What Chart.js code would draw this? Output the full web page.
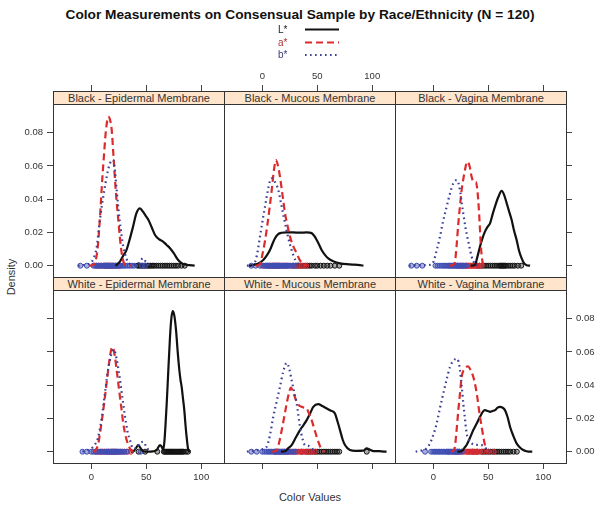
<!DOCTYPE html>
<html>
<head>
<meta charset="utf-8">
<script src="https://cdn.jsdelivr.net/npm/chart.js@4.4.0/dist/chart.umd.min.js"></script>
<style>
  body { margin: 0; background: #fff; }
  #wrap { position: relative; width: 600px; height: 511px; overflow: hidden; font-family: "Liberation Sans", Arial, sans-serif; }
  #wrap canvas { position: absolute; left: 0; top: 0; }
  .strip { position: absolute; box-sizing: border-box; border: 1px solid #333; background: #FFE5CC; color: #333; font-size: 11px; line-height: 12px; text-align: center; white-space: nowrap; }
  #title { position: absolute; left: 0; width: 600px; top: 7px; text-align: center; font-weight: bold; font-size: 13.7px; line-height: 15px; color: #111; }
  .lg { position: absolute; font-size: 10px; line-height: 12px; }
  #ylab { position: absolute; left: 11px; top: 277px; transform: translate(-50%, -50%) rotate(-90deg); font-size: 11px; color: #333; white-space: nowrap; }
  #xlab { position: absolute; left: 310px; top: 497px; transform: translate(-50%, -50%); font-size: 11px; color: #333; white-space: nowrap; }
</style>
</head>
<body>
<div id="wrap">
  <div id="title">Color Measurements on Consensual Sample by Race/Ethnicity (N = 120)</div>
  <div id="ylab">Density</div>
  <div id="xlab">Color Values</div>
</div>
<script>
// ---------------- DATA ----------------
const panelNames = ["Black - Epidermal Membrane", "Black - Mucous Membrane", "Black - Vagina Membrane",
                    "White - Epidermal Membrane", "White - Mucous Membrane", "White - Vagina Membrane"];
const seriesNames = ["L*", "a*", "b*"];
const xTickValues = [0, 50, 100];
const yTickValues = [0.00, 0.02, 0.04, 0.06, 0.08];

// density curves [x, density]
const blackEpidermalL = [[22,0],[26,0.0024],[29,0.006],[32,0.0094],[35,0.016],[38,0.0235],[41,0.0315],[44.3,0.0345],[47,0.0325],[49.5,0.03],[52,0.0275],[55,0.023],[58,0.0185],[61.5,0.016],[65.5,0.0144],[68.5,0.0125],[71.6,0.0105],[75,0.0075],[79,0.0034],[83,0.0012],[87,0.0005],[94,0.0001]];
const blackEpidermalA = [[-2,0],[2,0.0005],[4,0.003],[6,0.012],[8,0.03],[10,0.052],[11.5,0.066],[13.3,0.081],[15.5,0.0896],[17,0.088],[18.6,0.0816],[20,0.068],[21.6,0.0515],[23,0.039],[24.6,0.0275],[26,0.017],[27.7,0.0075],[29.5,0.002],[32,0.0002],[36,0]];
const blackEpidermalB = [[-12,0],[-6,0.0005],[0,0.002],[3,0.006],[5,0.0115],[7,0.023],[9.5,0.0355],[12,0.046],[14,0.0535],[17,0.0616],[20,0.0636],[21.5,0.057],[23.1,0.0455],[24.6,0.035],[26.1,0.0255],[27.6,0.018],[29.1,0.0115],[32.2,0.004],[35.2,0.001],[40,0.0005],[44,0.002],[47,0.0045],[50,0.002],[54,0]];

const blackMucousL = [[-12,0],[-9.6,0.0002],[-4,0.0012],[0.9,0.0034],[4,0.006],[7,0.0094],[9.5,0.0135],[11.6,0.0165],[14.5,0.019],[17.7,0.0198],[22,0.02],[28,0.02],[34,0.0199],[40.4,0.02],[44.9,0.0196],[47.2,0.018],[49.5,0.0155],[52,0.0122],[54,0.0094],[57,0.0065],[60,0.0044],[65,0.0025],[70.7,0.0014],[80,0.0008],[88.8,0.0003],[92,0]];
const blackMucousA = [[-6,0],[-2.1,0.001],[0.5,0.008],[2.5,0.015],[4,0.0215],[6.5,0.034],[8.6,0.0455],[10.5,0.057],[12.5,0.0636],[14.3,0.06],[16.1,0.0535],[18.5,0.042],[20.7,0.0315],[23,0.024],[25.2,0.0175],[28,0.012],[31.3,0.0075],[34,0.0035],[37.3,0.0008],[41,0]];
const blackMucousB = [[-14,0],[-8.2,0.0005],[-5,0.006],[-2.1,0.0175],[0.5,0.028],[2.5,0.0355],[5,0.045],[7,0.051],[8.6,0.0526],[11,0.051],[14.6,0.0455],[17.5,0.036],[20.7,0.0255],[23.5,0.017],[26.7,0.0094],[30,0.0035],[32.8,0.001],[36,0]];

const blackVaginaL = [[34,0],[37.9,0.0005],[40,0.005],[42.5,0.0115],[45,0.017],[47,0.0205],[49.5,0.0235],[51.6,0.0255],[54,0.031],[56.1,0.0355],[59,0.041],[62.2,0.045],[64.5,0.0425],[66.8,0.0375],[69,0.0325],[71.3,0.0275],[73.5,0.021],[75.8,0.0155],[78,0.009],[80.4,0.0044],[82.5,0.0015],[84.9,0.0003],[88,0]];
const blackVaginaA = [[15,0],[18,0.0005],[19.7,0.0022],[21.2,0.012],[22.8,0.0255],[24.3,0.036],[25.8,0.0455],[27.3,0.052],[28.8,0.0576],[30.9,0.0626],[33,0.06],[34.9,0.0535],[36.8,0.0505],[38.8,0.0505],[40,0.046],[40.9,0.0395],[41.8,0.03],[42.5,0.0215],[43.5,0.01],[44.9,0.002],[47,0]];
const blackVaginaB = [[-22,0],[-15,0.0003],[-8,0.0003],[-3,0.0005],[0,0.002],[3,0.009],[6.1,0.0175],[9,0.027],[12.2,0.0355],[15,0.043],[18.2,0.0495],[21.3,0.0515],[24.3,0.0455],[25.8,0.038],[27.3,0.0315],[29,0.024],[30.9,0.0175],[33,0.011],[34.9,0.0054],[37.9,0.001],[41,0]];

const whiteEpidermalL = [[36,0],[38.4,0.0003],[40.5,0.002],[42.8,0.004],[45,0.002],[47.3,0.0003],[52,0],[56,0.0002],[59.4,0.001],[62.5,0.004],[64,0.003],[65.4,0.001],[66.5,0.006],[67.5,0.016],[68.6,0.029],[70,0.048],[71.6,0.069],[72.8,0.08],[74,0.0846],[75.5,0.082],[77.1,0.073],[78.6,0.06],[80.1,0.049],[81.2,0.043],[82.2,0.039],[83.4,0.032],[84.6,0.025],[85.7,0.016],[86.7,0.009],[88.3,0.001],[90,0]];
const whiteEpidermalA = [[2,0],[4,0.001],[6.4,0.005],[8.6,0.014],[10.9,0.025],[12.8,0.035],[14.6,0.045],[16.5,0.055],[18,0.061],[19.5,0.063],[21.3,0.058],[23.1,0.049],[24.6,0.041],[26.1,0.033],[27.6,0.025],[29.1,0.017],[31.4,0.009],[33.7,0.004],[36.7,0.0005],[40,0]];
const whiteEpidermalB = [[-8,0],[-4.2,0.0008],[0,0.002],[3,0.004],[6,0.008],[9,0.018],[12,0.033],[15,0.048],[18,0.058],[20.5,0.0615],[23,0.056],[25.5,0.046],[28,0.034],[30.5,0.022],[33,0.012],[35.2,0.007],[38,0.002],[41,0.002],[44,0.005],[47.3,0.006],[50,0.003],[53,0]];

const whiteMucousL = [[17,0],[20.7,0.0003],[23.5,0.002],[26.7,0.004],[30.5,0.0085],[34.3,0.013],[37.5,0.016],[40.4,0.019],[43.5,0.023],[46.4,0.027],[50.9,0.0286],[54.5,0.0275],[58.6,0.026],[62,0.0248],[66.1,0.023],[68.5,0.018],[70.7,0.013],[73,0.0075],[75.2,0.004],[79.7,0.001],[85,0.0005],[91.8,0.0006],[95,0.002],[98,0.0012],[101,0.0004],[106,0.0003],[111.6,0],[113,0]];
const whiteMucousA = [[9,0],[13.1,0.0006],[15.5,0.006],[17.7,0.013],[20,0.021],[22.2,0.029],[24.2,0.035],[26.1,0.0386],[28.5,0.035],[31.3,0.03],[33.5,0.0278],[35.8,0.027],[38,0.0265],[40.4,0.026],[42.5,0.023],[44.9,0.019],[47.2,0.014],[49.5,0.009],[51.8,0.0045],[54,0.001],[57,0]];
const whiteMucousB = [[-14,0],[-11.2,0.0003],[-6,0.0008],[0,0.0015],[4,0.003],[7,0.01],[10,0.021],[13,0.03],[16.1,0.039],[19,0.048],[22.2,0.0534],[24.5,0.05],[26.7,0.043],[29,0.036],[31.3,0.029],[34.3,0.015],[36.5,0.008],[38.8,0.004],[42,0.0035],[45,0.002],[48,0]];

const whiteVaginaL = [[22,0],[25.8,0.0003],[28,0.002],[30.3,0.004],[33.5,0.0085],[36.4,0.013],[39.5,0.017],[42.5,0.021],[45,0.024],[47,0.025],[49.5,0.0245],[51.6,0.024],[54,0.0245],[56.1,0.025],[58.5,0.0265],[60.7,0.027],[63,0.0265],[65.2,0.025],[67.5,0.021],[69.8,0.015],[72.8,0.0095],[75.8,0.005],[78.8,0.0025],[81.8,0.001],[84.8,0.0003],[87.9,0],[90,0]];
const whiteVaginaA = [[16,0],[18,0.0005],[19.7,0.003],[21.2,0.013],[22.8,0.025],[24.3,0.035],[25.8,0.045],[28.8,0.05],[31.8,0.0514],[34,0.049],[36.4,0.045],[38.2,0.04],[40,0.033],[41.2,0.027],[42.5,0.021],[44,0.015],[45.5,0.009],[47,0.004],[48.6,0.0005],[51,0]];
const whiteVaginaB = [[-16,0],[-13.6,0.0004],[-9,0.001],[-6,0.002],[-3,0.005],[0,0.01],[3.1,0.017],[6,0.026],[9.1,0.035],[12,0.043],[15.2,0.051],[18,0.0545],[21.3,0.056],[23,0.054],[24.3,0.049],[25.8,0.04],[27.3,0.029],[28.8,0.02],[30.3,0.011],[32.5,0.007],[34.9,0.005],[38,0.0042],[42,0.004],[46,0.0035],[49,0.001],[52,0]];

// raw observations (rug points at density 0)
const blackEpidermalPtsL = [42,43.5,45,46.5,48,49.5,51,52.5,54,55.5,57,59,61,63,65,67,69,71,73,75,77,79,82,85];
const blackEpidermalPtsA = [5,7,9,11,12,13,14,15,15.5,16,17,18,19,20,22,24,26];
const blackEpidermalPtsB = [-10,-4,2,3.5,5,6.5,8,9.5,11,12,13,14,15,16,17,18,19,20,21,22,23,24,25,26.5,28,29.5,31,33,35,37,39,46,49];
const blackMucousPtsL = [28,31,33,35,37,39,41,43,45,48,50,53,56,59,62,66,70];
const blackMucousPtsA = [0,3,5,7,9,10,11,12,13,14,15,16,18,20,22,25,28,30,32,34,36,40];
const blackMucousPtsB = [-10,-6,-2,1,2.5,4,5,6,7,8,9,10,11,12,13,14,15,16,17,18,19,20,21,22,23,24,26,28,30];
const blackVaginaPtsL = [40,42,44,46,48,50,52,54,56,58,60,61,62,63,64,65,66,68,70,72,74,77,80];
const blackVaginaPtsA = [22,25,27,29,30,31,32,33,34,35,36,37,38,39,40,42,44];
const blackVaginaPtsB = [-20,-15,-10,2,4,6,8,9.5,11,12.5,14,15,16,17,18,19,20,21,22,23,24,25,26,27,28,30];
const whiteEpidermalPtsL = [43,49,60,66,67,68,69,70,71,72,73,74,75,76,77,78,79,80,81,82,83,84,86,88];
const whiteEpidermalPtsA = [4,6,8,10,12,14,16,18,19,20,21,22,24,26,28,30,33,36];
const whiteEpidermalPtsB = [-8,-4,0,2,4,6,8,9.5,11,12.5,14,15,16,17,18,19,20,21,22,23,24,25,26.5,28,30,32,45];
const whiteMucousPtsL = [36,40,42,44,46,48,50,52,54,56,58,60,62,64,66,68,70,95];
const whiteMucousPtsA = [12,15,18,20,22,24,26,28,30,31.5,33,34.5,36,37.5,39,41,43,45,48];
const whiteMucousPtsB = [-10,-5,0,2,4,5.5,7,8.5,10,11,12,13,14,15,16,17,18,19,20,21,22,23,24,26,28,30];
const whiteVaginaPtsL = [36,40,44,46,48,50,52,54,56,58,60,62,64,66,68,70,73,76];
const whiteVaginaPtsA = [20,22,24,26,28,30,31,32,33,34,35,36,37,38,39,40,42,45,50,55];
const whiteVaginaPtsB = [-7.5,-2,0,1.5,3,4.5,6,7.5,9,10.5,12,13,14,15,16,17,18,19,20,21,22,23,24,26];

const panelCurves = [
  [blackEpidermalL, blackEpidermalA, blackEpidermalB],
  [blackMucousL, blackMucousA, blackMucousB],
  [blackVaginaL, blackVaginaA, blackVaginaB],
  [whiteEpidermalL, whiteEpidermalA, whiteEpidermalB],
  [whiteMucousL, whiteMucousA, whiteMucousB],
  [whiteVaginaL, whiteVaginaA, whiteVaginaB]
];
const panelPoints = [
  [blackEpidermalPtsL, blackEpidermalPtsA, blackEpidermalPtsB],
  [blackMucousPtsL, blackMucousPtsA, blackMucousPtsB],
  [blackVaginaPtsL, blackVaginaPtsA, blackVaginaPtsB],
  [whiteEpidermalPtsL, whiteEpidermalPtsA, whiteEpidermalPtsB],
  [whiteMucousPtsL, whiteMucousPtsA, whiteMucousPtsB],
  [whiteVaginaPtsL, whiteVaginaPtsA, whiteVaginaPtsB]
];

// ---------------- STYLE / LAYOUT ----------------
const lineColors = ["#111111", "#DD2B2B", "#3B3F96"];
const pointColors = ["#111111", "#D42A35", "#3F4DB3"];
const pointFills = ["rgba(17,17,17,0.35)", "rgba(212,42,53,0.4)", "rgba(63,77,179,0.45)"];
const legendTextColors = ["#222222", "#A33434", "#3A3A78"];
const lineDash = [[], [7, 4], [1.6, 3.4]];
const colLeft = [53, 224, 395];
const rowTop = [91, 277];
const panelW = 171, panelH = 186, AX = 30, STRIP = 13;
const X_MIN = -34.8, X_MAX = 120.7;
const Y_MIN = -0.0068, Y_MAX = 0.1051;

Chart.defaults.font.family = "'Liberation Sans', Arial, sans-serif";
Chart.defaults.color = "#333";

const wrap = document.getElementById('wrap');

const framePlugin = {
  id: 'frame',
  afterDraw(chart) {
    const a = chart.chartArea, ctx = chart.ctx;
    ctx.save();
    ctx.strokeStyle = '#333';
    ctx.lineWidth = 1;
    ctx.strokeRect(Math.round(a.left) + 0.5, Math.round(a.top) + 0.5, Math.round(a.right - a.left), Math.round(a.bottom - a.top));
    ctx.restore();
  }
};

function fixSize(size) {
  return (s) => { if (s.isHorizontal()) s.height = size; else s.width = size; };
}

function axis(position, min, max, tickVals, showTicks, showLabels, fmt, pad) {
  return {
    type: 'linear', position, min, max,
    afterFit: fixSize(AX),
    afterBuildTicks: (s) => { s.ticks = tickVals.map(v => ({ value: v })); },
    border: { display: false },
    grid: { display: showTicks, drawOnChartArea: false, drawTicks: true, tickLength: 6, color: '#444', lineWidth: 1 },
    ticks: { display: showLabels, padding: pad, font: { size: 9.5 }, color: '#333', maxRotation: 0, autoSkip: false, callback: fmt }
  };
}

panelNames.forEach((name, i) => {
  const row = Math.floor(i / 3), col = i % 3;
  const L = colLeft[col], T = rowTop[row], R = L + panelW, B = T + panelH;
  const canvas = document.createElement('canvas');
  canvas.width = 600; canvas.height = 511;
  wrap.appendChild(canvas);

  const datasets = [];
  seriesNames.forEach((s, k) => {
    datasets.push({
      label: s + ' density',
      data: panelCurves[i][k].map(p => ({ x: p[0], y: p[1] })),
      showLine: true, fill: false,
      borderColor: lineColors[k], borderWidth: 2.2, borderDash: lineDash[k],
      pointRadius: 0, cubicInterpolationMode: 'monotone',
      order: 2 - k
    });
    datasets.push({
      label: s + ' points',
      data: panelPoints[i][k].map(v => ({ x: v, y: 0 })),
      showLine: false,
      pointStyle: 'circle', pointRadius: 2.5, pointBorderWidth: 1,
      pointBorderColor: pointColors[k], pointBackgroundColor: pointFills[k],
      order: 5 - k
    });
  });

  const fx = v => String(v);
  const fy = v => Number(v).toFixed(2);
  new Chart(canvas, {
    type: 'scatter',
    data: { datasets },
    options: {
      responsive: false, animation: false, events: [],
      layout: { padding: { left: L - AX, top: T - AX, right: 600 - R - AX, bottom: 511 - B - AX } },
      plugins: { legend: { display: false }, tooltip: { enabled: false }, title: { display: false } },
      scales: {
        x: axis('bottom', X_MIN, X_MAX, xTickValues, row === 1, row === 1 && col !== 1, fx, 3),
        xTop: axis('top', X_MIN, X_MAX, xTickValues, row === 0, row === 0 && col === 1, fx, 3),
        y: axis('left', Y_MIN, Y_MAX, yTickValues, col === 0, col === 0 && row === 0, fy, 4),
        yRight: axis('right', Y_MIN, Y_MAX, yTickValues, col === 2, col === 2 && row === 1, fy, 4)
      }
    },
    plugins: [framePlugin]
  });

  const strip = document.createElement('div');
  strip.className = 'strip';
  strip.style.left = L + 'px';
  strip.style.top = T + 'px';
  strip.style.width = (panelW + 1) + 'px';
  strip.style.height = (STRIP + 1) + 'px';
  strip.textContent = name;
  wrap.appendChild(strip);
});

// ---------------- LEGEND (HTML) ----------------
const legendY = [29.5, 42.5, 55];
seriesNames.forEach((s, k) => {
  const t = document.createElement('div');
  t.className = 'lg';
  t.style.left = '278px';
  t.style.top = (legendY[k] - 6) + 'px';
  t.style.color = legendTextColors[k];
  t.textContent = s;
  wrap.appendChild(t);
});
const svgNS = 'http://www.w3.org/2000/svg';
const svg = document.createElementNS(svgNS, 'svg');
svg.setAttribute('width', '600'); svg.setAttribute('height', '80');
svg.style.position = 'absolute'; svg.style.left = '0'; svg.style.top = '0';
seriesNames.forEach((s, k) => {
  const ln = document.createElementNS(svgNS, 'line');
  ln.setAttribute('x1', '305'); ln.setAttribute('x2', '339');
  ln.setAttribute('y1', String(legendY[k])); ln.setAttribute('y2', String(legendY[k]));
  ln.setAttribute('stroke', lineColors[k]);
  ln.setAttribute('stroke-width', '2');
  if (lineDash[k].length) ln.setAttribute('stroke-dasharray', lineDash[k].join(' '));
  svg.appendChild(ln);
});
wrap.appendChild(svg);
</script>
</body>
</html>
